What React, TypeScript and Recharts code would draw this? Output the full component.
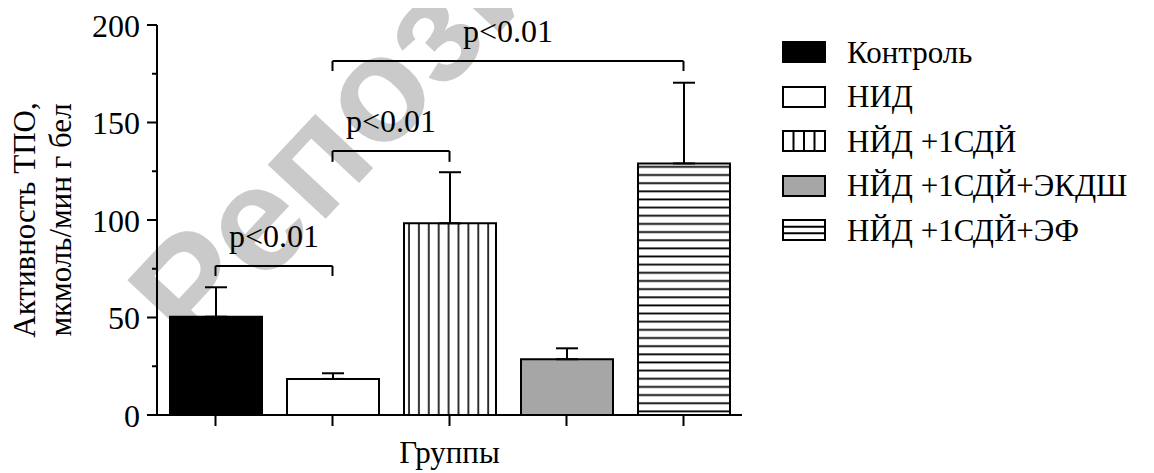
import { BarChart, Bar, XAxis, YAxis, Cell, ErrorBar, ReferenceLine, Label } from 'recharts'

// Activity values (mean and upper error)
const groups = ['Контроль', 'НИД', 'НЙД +1СДЙ', 'НЙД +1СДЙ+ЭКДШ', 'НЙД +1СДЙ+ЭФ']
const means = [50.4, 18.5, 98.3, 28.6, 129.0]
const sems = [15.1, 2.9, 26.2, 5.6, 41.4]
const yTicks = [0, 25, 50, 75, 100, 125, 150, 175, 200]
const yLabelled = [0, 50, 100, 150, 200]

// Significance brackets: between two groups, at a level, with a short drop
const bracketFrom = ['Контроль', 'НИД', 'НИД']
const bracketTo = ['НИД', 'НЙД +1СДЙ', 'НЙД +1СДЙ+ЭФ']
const bracketLevel = [76.4, 135.4, 181.5]
const bracketDrop = [5.1, 5.6, 5.1]
const bracketText = ['p<0.01', 'p<0.01', 'p<0.01']

const FONT = '"Liberation Serif", "Times New Roman", serif'
const fills = ['#000000', '#ffffff', 'url(#vstripes)', '#a6a6a6', 'url(#hstripes)']

const data = groups.map((group, i) => ({ group, mean: means[i], err: [0, sems[i]] }))

const W = 1138
const H = 465

// y tick: labels on multiples of 50, short ticks between
const YTick = (props: any) => {
  const { x, y, payload } = props
  const axisX = x + 17
  const major = yLabelled.includes(payload.value)
  return (
    <g>
      <line x1={axisX - (major ? 10 : 5)} x2={axisX} y1={y} y2={y} stroke="#000" strokeWidth={2} />
      {major && (
        <text x={x} y={y} dy="0.36em" textAnchor="end" fontSize={32} fontFamily={FONT} fill="#000">
          {payload.value}
        </text>
      )}
    </g>
  )
}

const renderYLabel = (props: any) => {
  const vb = props.viewBox || { x: 0, y: 0, height: 0 }
  const cy = vb.y + vb.height / 2
  const x1 = vb.x + 27
  const x2 = vb.x + 63
  return (
    <g fontFamily={FONT} fontSize={31} fill="#000">
      <text x={x1} y={cy} textAnchor="middle" transform={`rotate(-90, ${x1}, ${cy})`}>
        Активность ТПО,
      </text>
      <text x={x2} y={cy} textAnchor="middle" transform={`rotate(-90, ${x2}, ${cy})`}>
        мкмоль/мин г бел
      </text>
    </g>
  )
}

const Swatch = ({ index }: { index: number }) => (
  <svg width={44} height={22} style={{ display: 'block' }}>
    <rect x={1} y={1} width={42} height={20} fill={index === 2 || index === 4 ? '#fff' : fills[index]} stroke="#000" strokeWidth={2} />
    {index === 2 && [11.5, 22, 32.5].map((lx) => <line key={lx} x1={lx} x2={lx} y1={1} y2={21} stroke="#000" strokeWidth={2} />)}
    {index === 4 && [7.7, 14.3].map((ly) => <line key={ly} x1={1} x2={43} y1={ly} y2={ly} stroke="#000" strokeWidth={2} />)}
  </svg>
)

export default function App() {
  return (
    <div style={{ position: 'relative', width: W, height: H, fontFamily: FONT }}>
      {/* watermark, behind the chart */}
      <svg width={W} height={H} style={{ position: 'absolute', left: 0, top: 0 }}>
        <text
          x={188}
          y={350}
          transform="rotate(-47, 188, 350)"
          fontFamily='"Liberation Sans", Arial, sans-serif'
          fontWeight="bold"
          fontSize={150}
          fill="#cacaca"
        >
          Репози
        </text>
      </svg>

      <div style={{ position: 'absolute', left: 0, top: 0 }}>
        <BarChart width={W} height={H} data={data} margin={{ top: 17, right: 404, bottom: 5, left: 0 }}>
          <defs>
            <pattern id="vstripes" patternUnits="userSpaceOnUse" width={9.9} height={10}>
              <rect width={9.9} height={10} fill="#fff" />
              <line x1={5} x2={5} y1={0} y2={10} stroke="#000" strokeWidth={1.6} />
            </pattern>
            <pattern id="hstripes" patternUnits="userSpaceOnUse" width={10} height={8.15}>
              <rect width={10} height={8.15} fill="#fff" />
              <line x1={0} x2={10} y1={4} y2={4} stroke="#000" strokeWidth={1.8} />
            </pattern>
          </defs>
          <XAxis
            dataKey="group"
            height={53}
            tickSize={11}
            tickFormatter={() => ''}
            axisLine={{ stroke: '#000', strokeWidth: 2 }}
            tickLine={{ stroke: '#000', strokeWidth: 2 }}
          >
            <Label value="Группы" position="insideBottom" offset={5} fontSize={31} fontFamily={FONT} fill="#000" />
          </XAxis>
          <YAxis
            width={149}
            domain={[0, 200]}
            ticks={yTicks}
            interval={0}
            tickSize={10}
            tickMargin={7}
            tickLine={false}
            tick={<YTick />}
            axisLine={{ stroke: '#000', strokeWidth: 2 }}
          >
            <Label content={renderYLabel} />
          </YAxis>
          <Bar dataKey="mean" barSize={92} stroke="#000" strokeWidth={2} isAnimationActive={false}>
            {data.map((d, i) => (
              <Cell key={d.group} fill={fills[i]} />
            ))}
            <ErrorBar dataKey="err" direction="y" width={11} stroke="#000" strokeWidth={2} />
          </Bar>
          {bracketLevel.map((lvl, i) => (
            <ReferenceLine
              key={`h${i}`}
              segment={[
                { x: bracketFrom[i], y: lvl },
                { x: bracketTo[i], y: lvl },
              ]}
              stroke="#000"
              strokeWidth={2}
              label={{ value: bracketText[i], position: 'top', offset: 19, fontSize: 32, fontFamily: FONT, fill: '#000' }}
            />
          ))}
          {bracketLevel.map((lvl, i) => (
            <ReferenceLine
              key={`l${i}`}
              segment={[
                { x: bracketFrom[i], y: lvl },
                { x: bracketFrom[i], y: lvl - bracketDrop[i] },
              ]}
              stroke="#000"
              strokeWidth={2}
            />
          ))}
          {bracketLevel.map((lvl, i) => (
            <ReferenceLine
              key={`r${i}`}
              segment={[
                { x: bracketTo[i], y: lvl },
                { x: bracketTo[i], y: lvl - bracketDrop[i] },
              ]}
              stroke="#000"
              strokeWidth={2}
            />
          ))}
        </BarChart>
      </div>

      {/* legend */}
      <div style={{ position: 'absolute', left: 774, top: 21.75 }}>
        {groups.map((g, i) => (
          <div key={g} style={{ display: 'flex', alignItems: 'center', height: 44.5 }}>
            <Swatch index={i} />
            <span style={{ marginLeft: 21, fontSize: 31, lineHeight: 1, whiteSpace: 'nowrap', color: '#000' }}>{g}</span>
          </div>
        ))}
      </div>
    </div>
  )
}
